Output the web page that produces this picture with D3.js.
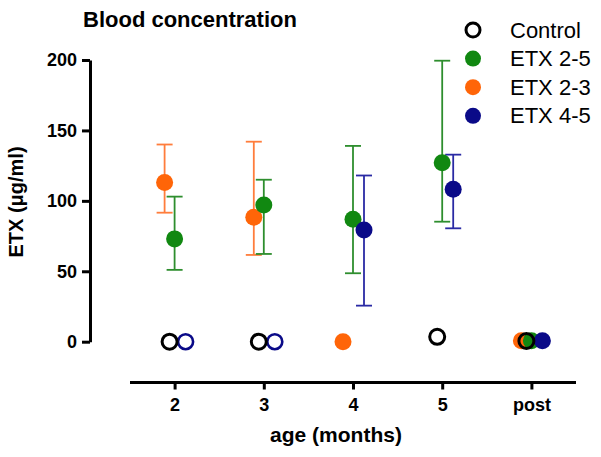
<!DOCTYPE html>
<html><head><meta charset="utf-8">
<script src="https://cdn.jsdelivr.net/npm/d3@7"></script>
<style>body{margin:0;background:#fff}svg{display:block}text{font-family:"Liberation Sans",Arial,sans-serif}</style>
</head><body>
<svg id="c" width="601" height="457"></svg>
<script>
const categories = ["2", "3", "4", "5", "post"];
const yTicks = [0, 50, 100, 150, 200];
const seriesNames = ["Control", "ETX 2-5", "ETX 2-3", "ETX 4-5"];

const controlMean = [0, 0, null, 3.5, 0.5];
const etx25Mean   = [73, 97, 87, 127, 0.7];
const etx25Low    = [51, 62.3, 48.6, 85.2, null];
const etx25High   = [103, 115, 139, 199.5, null];
const etx23Mean   = [113, 88.3, 0, null, 0.7];
const etx23Low    = [91.6, 61.6, null, null, null];
const etx23High   = [140, 142, null, null, null];
const etx45Mean   = [0, 0, 79.3, 108.2, 0.7];
const etx45Low    = [null, null, 25.6, 80.5, null];
const etx45High   = [null, null, 118, 132.8, null];
const etx45Filled = [false, false, true, true, true];

const svg = d3.select("#c");
const x = d3.scalePoint().domain(categories).range([130, 576]).padding(0.5);
const y = d3.scaleLinear().domain([0, 200]).range([341.7, 60]);

const style = {
  "Control": {fill: "#000", bar: "#000", dx: -5},
  "ETX 2-5": {fill: "#118811", bar: "#2e8e2e", dx: 0},
  "ETX 2-3": {fill: "#ff6508", bar: "#ff7d3c", dx: -10},
  "ETX 4-5": {fill: "#0a0a88", bar: "#2a2aa4", dx: 11}
};

// title
svg.append("text").attr("x", 83).attr("y", 27).attr("font-size", 22).attr("font-weight", "bold").text("Blood concentration");

// y axis
const yAxis = svg.append("g").attr("transform", "translate(90,0)")
  .call(d3.axisLeft(y).tickValues(yTicks).tickSize(8).tickPadding(5).tickSizeOuter(0));
yAxis.select(".domain").attr("stroke", "#000").attr("stroke-width", 3);
yAxis.selectAll(".tick line").attr("stroke-width", 3);
yAxis.selectAll(".tick text").attr("font-size", 18).attr("font-weight", "bold").attr("fill", "#000");

svg.append("text").attr("transform", "translate(23,202) rotate(-90)").attr("text-anchor", "middle")
  .attr("font-size", 20).attr("font-weight", "bold").text("ETX (\u03bcg/ml)");

// x axis
const xAxis = svg.append("g").attr("transform", "translate(0,382.5)")
  .call(d3.axisBottom(x).tickSize(7).tickPadding(9).tickSizeOuter(0));
xAxis.select(".domain").attr("stroke", "#000").attr("stroke-width", 3).attr("d", "M130,0H576");
xAxis.selectAll(".tick line").attr("stroke-width", 3);
xAxis.selectAll(".tick text").attr("font-size", 18).attr("font-weight", "bold").attr("fill", "#000");

svg.append("text").attr("x", 336).attr("y", 442).attr("text-anchor", "middle")
  .attr("font-size", 21).attr("font-weight", "bold").text("age (months)");

function build(name, mean, low, high, filled) {
  return categories.map((c, i) => ({name, c, v: mean[i], lo: low ? low[i] : null, hi: high ? high[i] : null,
    filled: filled ? filled[i] : name !== "Control"})).filter(d => d.v != null);
}
const groups = [
  build("ETX 2-3", etx23Mean, etx23Low, etx23High),
  build("ETX 2-5", etx25Mean, etx25Low, etx25High),
  build("ETX 4-5", etx45Mean, etx45Low, etx45High, etx45Filled),
  build("Control", controlMean, null, null)
];
const all = groups.flat();
const px = d => x(d.c) + style[d.name].dx;

// error bars
const eb = svg.append("g");
all.filter(d => d.lo != null).forEach(d => {
  const col = style[d.name].bar, cx = px(d);
  eb.append("line").attr("x1", cx).attr("x2", cx).attr("y1", y(d.hi)).attr("y2", y(d.lo)).attr("stroke", col).attr("stroke-width", 1.8);
  [d.hi, d.lo].forEach(v => eb.append("line").attr("x1", cx - 8).attr("x2", cx + 8).attr("y1", y(v)).attr("y2", y(v)).attr("stroke", col).attr("stroke-width", 1.8));
});

// points
groups.forEach(g => {
  svg.append("g").selectAll("circle").data(g).join("circle")
    .attr("cx", px).attr("cy", d => y(d.v))
    .attr("r", d => d.filled ? 8.5 : 7.5)
    .attr("fill", d => d.filled ? style[d.name].fill : "none")
    .attr("stroke", d => d.filled ? "none" : style[d.name].fill)
    .attr("stroke-width", d => d.name === "Control" ? 3 : 2.6);
});

// legend
const lg = svg.append("g").selectAll("g").data(seriesNames).join("g")
  .attr("transform", (d, i) => `translate(473,${30 + i * 28.6})`);
lg.append("circle").attr("r", d => d === "Control" ? 7 : 8)
  .attr("fill", d => d === "Control" ? "none" : style[d].fill)
  .attr("stroke", d => d === "Control" ? "#000" : "none").attr("stroke-width", 3);
lg.append("text").attr("x", 37).attr("y", 7.5).attr("font-size", 22).text(d => d);
</script>
</body></html>
